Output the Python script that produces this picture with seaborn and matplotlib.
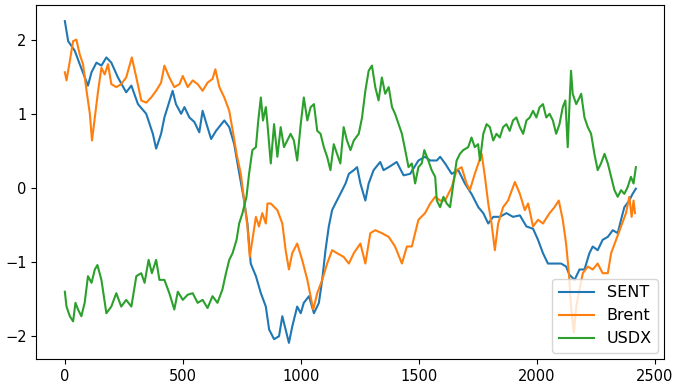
import pandas as pd
import seaborn as sns
import matplotlib
matplotlib.use("Agg")
import matplotlib.pyplot as plt

# values
sent_x = [0, 14, 42, 63, 98, 113, 134, 155, 176, 197, 225, 260, 282, 310, 345, 373, 387, 408, 422, 457,
          471, 493, 507, 528, 549, 570, 584, 598, 620, 641, 676, 697, 718, 732, 746, 760, 774, 788, 810, 831,
          852, 866, 887, 908, 922, 936, 950, 964, 985, 1000, 1013, 1035, 1056, 1077, 1091, 1105, 1119, 1133,
          1147, 1168, 1190, 1204, 1225, 1239, 1253, 1274, 1288, 1309, 1337, 1351, 1373, 1407, 1436, 1464,
          1499, 1527, 1549, 1577, 1591, 1612, 1640, 1668, 1696, 1724, 1753, 1774, 1795, 1816, 1844, 1872,
          1900, 1929, 1957, 1985, 2006, 2027, 2048, 2076, 2104, 2125, 2139, 2161, 2182, 2203, 2224, 2238,
          2259, 2280, 2302, 2323, 2344, 2358, 2372, 2393, 2407, 2421]
sent_y = [2.25, 1.98, 1.85, 1.67, 1.38, 1.56, 1.69, 1.65, 1.76, 1.69, 1.49, 1.29, 1.38, 1.13, 1.00, 0.73, 0.53,
          0.73, 0.95, 1.31, 1.13, 1.00, 1.09, 0.95, 0.89, 0.75, 1.04, 0.89, 0.66, 0.77, 0.91, 0.82, 0.59, 0.33,
          0.08, -0.17, -0.48, -1.02, -1.19, -1.42, -1.60, -1.91, -2.04, -2.00, -1.73, -1.91, -2.09, -1.87,
          -1.60, -1.69, -1.55, -1.46, -1.69, -1.55, -1.24, -0.84, -0.52, -0.30, -0.21, -0.08, 0.06, 0.19,
          0.24, 0.28, 0.06, -0.17, 0.06, 0.24, 0.35, 0.24, 0.28, 0.35, 0.17, 0.19, 0.37, 0.42, 0.37, 0.37,
          0.42, 0.33, 0.19, 0.24, 0.06, -0.08, -0.26, -0.34, -0.48, -0.39, -0.39, -0.34, -0.39, -0.37, -0.52,
          -0.55, -0.70, -0.88, -1.02, -1.02, -1.02, -1.06, -1.17, -1.24, -1.10, -1.10, -0.88, -0.79, -0.84,
          -0.70, -0.66, -0.57, -0.61, -0.43, -0.26, -0.17, -0.08, -0.01]

brent_x = [0, 7, 21, 35, 49, 63, 77, 92, 106, 115, 127, 141, 155, 169, 183, 197, 218, 239, 260, 284, 303,
           324, 345, 366, 387, 408, 422, 443, 464, 486, 500, 521, 542, 563, 584, 605, 626, 638, 655, 676, 697,
           714, 728, 746, 760, 774, 784, 795, 810, 823, 837, 852, 859, 873, 901, 922, 936, 950, 964, 985, 1006,
           1028, 1042, 1053, 1070, 1091, 1112, 1133, 1154, 1182, 1204, 1225, 1253, 1274, 1295, 1316, 1344,
           1373, 1400, 1429, 1450, 1471, 1499, 1527, 1549, 1570, 1591, 1612, 1640, 1661, 1682, 1703, 1717,
           1738, 1753, 1767, 1781, 1795, 1809, 1823, 1837, 1858, 1879, 1908, 1929, 1950, 1964, 1985, 2006,
           2027, 2055, 2076, 2094, 2111, 2125, 2137, 2146, 2158, 2168, 2182, 2196, 2217, 2238, 2259, 2280,
           2302, 2316, 2337, 2358, 2379, 2393, 2403, 2411, 2417]
brent_y = [1.56, 1.45, 1.71, 1.98, 2.00, 1.80, 1.67, 1.31, 1.00, 0.64, 0.95, 1.31, 1.62, 1.53, 1.67, 1.40,
           1.36, 1.40, 1.49, 1.76, 1.49, 1.18, 1.15, 1.22, 1.31, 1.42, 1.65, 1.49, 1.36, 1.40, 1.51, 1.36,
           1.45, 1.40, 1.31, 1.42, 1.47, 1.60, 1.36, 1.22, 1.04, 0.73, 0.46, 0.19, -0.17, -0.52, -0.93, -0.70,
           -0.39, -0.52, -0.34, -0.48, -0.21, -0.21, -0.30, -0.48, -0.84, -1.10, -0.88, -0.75, -0.97, -1.24,
           -1.46, -1.64, -1.42, -1.24, -1.02, -0.84, -0.88, -0.93, -1.02, -0.88, -0.75, -1.02, -0.61, -0.57,
           -0.61, -0.66, -0.79, -1.02, -0.79, -0.79, -0.43, -0.34, -0.21, -0.12, -0.17, -0.17, 0.01, 0.24,
           0.28, 0.06, -0.03, 0.19, 0.33, 0.46, 0.15, -0.21, -0.48, -0.84, -0.48, -0.26, -0.17, 0.08, -0.08,
           -0.30, -0.21, -0.52, -0.43, -0.48, -0.34, -0.26, -0.17, -0.43, -0.75, -1.15, -1.60, -1.95, -1.60,
           -1.37, -1.15, -1.06, -1.10, -1.02, -1.15, -1.15, -0.88, -0.70, -0.52, -0.34, -0.12, -0.39, -0.17,
           -0.34]

usdx_x = [0, 7, 21, 35, 45, 56, 70, 84, 98, 113, 127, 138, 155, 176, 197, 218, 239, 260, 282, 303, 324, 338,
          355, 369, 387, 401, 422, 443, 464, 479, 500, 521, 542, 563, 584, 605, 626, 647, 668, 683, 697, 711,
          728, 739, 753, 770, 781, 795, 810, 820, 831, 840, 852, 859, 873, 887, 901, 915, 929, 943, 957, 971,
          985, 1000, 1013, 1028, 1042, 1056, 1070, 1084, 1098, 1112, 1126, 1140, 1154, 1168, 1182, 1196, 1211,
          1225, 1246, 1260, 1274, 1288, 1302, 1316, 1330, 1344, 1358, 1373, 1387, 1400, 1415, 1429, 1443,
          1457, 1471, 1485, 1499, 1513, 1524, 1541, 1555, 1570, 1577, 1591, 1605, 1619, 1633, 1647, 1661,
          1675, 1689, 1710, 1724, 1738, 1752, 1760, 1774, 1788, 1802, 1816, 1830, 1844, 1858, 1872, 1886,
          1900, 1914, 1929, 1943, 1957, 1971, 1985, 1999, 2013, 2027, 2041, 2055, 2069, 2083, 2097, 2111,
          2122, 2132, 2139, 2146, 2153, 2168, 2182, 2189, 2203, 2217, 2231, 2245, 2259, 2273, 2288, 2302,
          2316, 2330, 2344, 2358, 2372, 2386, 2400, 2411, 2421]
usdx_y = [-1.40, -1.60, -1.73, -1.80, -1.55, -1.64, -1.73, -1.55, -1.19, -1.28, -1.10, -1.04, -1.24, -1.69,
          -1.60, -1.42, -1.60, -1.51, -1.60, -1.19, -1.15, -1.28, -0.97, -1.15, -0.97, -1.24, -1.24, -1.42,
          -1.64, -1.40, -1.51, -1.44, -1.42, -1.55, -1.51, -1.62, -1.46, -1.55, -1.37, -1.15, -0.97, -0.88,
          -0.70, -0.48, -0.34, -0.12, 0.19, 0.51, 0.55, 0.91, 1.22, 0.91, 1.09, 0.86, 0.33, 0.86, 0.42, 0.82,
          0.55, 0.64, 0.73, 0.64, 0.37, 0.86, 1.22, 0.91, 1.09, 1.13, 0.77, 0.73, 0.55, 0.42, 0.24, 0.59,
          0.46, 0.33, 0.82, 0.64, 0.51, 0.64, 0.73, 0.95, 1.31, 1.58, 1.65, 1.36, 1.18, 1.49, 1.27, 1.36,
          1.09, 1.00, 0.86, 0.73, 0.51, 0.28, 0.33, 0.06, 0.28, 0.33, 0.51, 0.37, 0.24, 0.15, -0.17, -0.26,
          -0.12, -0.21, -0.26, 0.06, 0.37, 0.46, 0.51, 0.55, 0.68, 0.55, 0.59, 0.37, 0.73, 0.86, 0.82, 0.64,
          0.73, 0.68, 0.82, 0.86, 0.77, 0.91, 0.95, 0.82, 0.73, 0.91, 0.95, 1.04, 0.95, 1.09, 1.13, 0.95,
          1.00, 0.91, 0.73, 0.86, 1.09, 1.18, 0.55, 1.09, 1.58, 1.27, 1.13, 1.22, 1.27, 0.95, 0.82, 0.73,
          0.46, 0.24, 0.33, 0.46, 0.33, 0.15, -0.03, -0.12, -0.03, -0.08, 0.01, 0.15, 0.06, 0.28]

series_names = ["SENT", "Brent", "USDX"]

df = pd.concat([
    pd.DataFrame({"t": sent_x, "value": sent_y, "series": "SENT"}),
    pd.DataFrame({"t": brent_x, "value": brent_y, "series": "Brent"}),
    pd.DataFrame({"t": usdx_x, "value": usdx_y, "series": "USDX"}),
])

fig, ax = plt.subplots(figsize=(6.85, 3.86), dpi=100)
sns.lineplot(data=df, x="t", y="value", hue="series", hue_order=series_names,
             estimator=None, palette="tab10", linewidth=1.5, ax=ax)
ax.set_xlabel("")
ax.set_ylabel("")
ax.set_xticks([0, 500, 1000, 1500, 2000, 2500])
ax.tick_params(labelsize=10.5)
ax.legend(loc="lower right", fontsize=11.5, handlelength=2.2, borderaxespad=0.4)
plt.subplots_adjust(left=0.053, right=0.970, top=0.987, bottom=0.07)
plt.savefig("out.png")
